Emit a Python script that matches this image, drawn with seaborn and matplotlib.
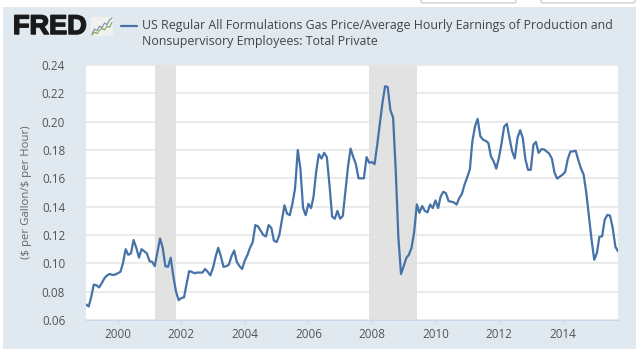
import pandas as pd
import matplotlib.pyplot as plt
import matplotlib.dates as mdates
import matplotlib.patheffects as pe
from matplotlib.patches import Rectangle, FancyBboxPatch
import seaborn as sns

# valores mensais, jan/1999 a out/2015
y1999 = [.0710, .0695, .0760, .0850, .0845, .0830, .0860, .0895, .0915, .0925, .0918, .0920]
y2000 = [.0930, .0940, .1000, .1100, .1060, .1070, .1165, .1110, .1040, .1100, .1085, .1070]
y2001 = [.1015, .1010, .0980, .1080, .1175, .1110, .0980, .0975, .1040, .0910, .0800, .0740]
y2002 = [.0755, .0760, .0850, .0945, .0940, .0930, .0935, .0935, .0935, .0960, .0940, .0915]
y2003 = [.0970, .1050, .1110, .1050, .0975, .0980, .0990, .1050, .1090, .1010, .0980, .0960]
y2004 = [.1020, .1060, .1110, .1150, .1270, .1260, .1230, .1200, .1190, .1270, .1250, .1160]
y2005 = [.1150, .1200, .1300, .1410, .1350, .1340, .1420, .1530, .1800, .1670, .1390, .1340]
y2006 = [.1420, .1390, .1470, .1650, .1770, .1740, .1780, .1750, .1550, .1330, .1315, .1370]
y2007 = [.1315, .1335, .1500, .1680, .1810, .1750, .1700, .1600, .1600, .1600, .1750, .1710]
y2008 = [.1715, .1700, .1830, .1980, .2130, .2250, .2245, .2080, .2030, .1660, .1180, .0925]
y2009 = [.0980, .1040, .1060, .1110, .1220, .1416, .1357, .1405, .1370, .1360, .1415, .1390]
y2010 = [.1444, .1390, .1470, .1505, .1495, .1440, .1435, .1430, .1415, .1460, .1490, .1555]
y2011 = [.1607, .1665, .1860, .1967, .2020, .1897, .1873, .1865, .1850, .1755, .1720, .1668]
y2012 = [.1745, .1850, .1965, .1985, .1885, .1790, .1740, .1885, .1940, .1885, .1732, .1660]
y2013 = [.1660, .1838, .1857, .1780, .1805, .1805, .1790, .1775, .1738, .1640, .1598, .1612]
y2014 = [.1626, .1645, .1732, .1789, .1790, .1795, .1730, .1670, .1626, .1500, .1331, .1167]
y2015 = [.1025, .1075, .1188, .1190, .1308, .1342, .1337, .1250, .1117, .1085]

recessoes = [('2001-03-01', '2001-11-01'), ('2007-12-01', '2009-06-01')]
y_ticks = [0.06, 0.08, 0.10, 0.12, 0.14, 0.16, 0.18, 0.20, 0.22, 0.24]
x_anos = [2000, 2002, 2004, 2006, 2008, 2010, 2012, 2014]

titulo = ('US Regular All Formulations Gas Price/Average Hourly Earnings of Production and\n'
          'Nonsupervisory Employees: Total Private')
eixo_y = r'(\$ per Gallon/\$ per Hour)'

# icone do logo
icone_x = [0, 1, 2, 3, 4, 5, 6, 7, 8]
icone_a = [1.0, 2.2, 1.8, 3.0, 2.6, 3.8, 3.4, 4.6, 5.2]
icone_b = [0.6, 1.4, 1.0, 1.9, 2.4, 2.0, 3.0, 2.7, 4.0]

valores = (y1999 + y2000 + y2001 + y2002 + y2003 + y2004 + y2005 + y2006 + y2007
           + y2008 + y2009 + y2010 + y2011 + y2012 + y2013 + y2014 + y2015)
df = pd.DataFrame({'data': pd.date_range('1999-01-01', periods=len(valores), freq='MS'),
                   'valor': valores})

sns.set_theme(style='white')
plt.rcParams['font.family'] = ['Open Sans', 'DejaVu Sans']

L, A = 640, 351
fig = plt.figure(figsize=(L / 100, A / 100), dpi=100, facecolor='white')

# painel azul claro e os botoes cortados no topo
fig.add_artist(Rectangle((3 / L, 1 - 349 / A), 633 / L, 342 / A, transform=fig.transFigure,
                         facecolor='#e1e9f0', edgecolor='none', zorder=-5))
for bx, bw in [(421, 95), (541, 94)]:
    fig.add_artist(FancyBboxPatch((bx / L, 1 - 3 / A), bw / L, 8 / A, transform=fig.transFigure,
                                  boxstyle='round,pad=0,rounding_size=0.004', facecolor='white',
                                  edgecolor='#c4c4c4', linewidth=0.8))

ax = fig.add_axes([86 / L, 1 - 320 / A, 532 / L, 255 / A])
for inicio, fim in recessoes:
    ax.axvspan(pd.Timestamp(inicio), pd.Timestamp(fim), color='#e1e1e1', alpha=0.95, lw=0, zorder=1)
sns.lineplot(x='data', y='valor', data=df, ax=ax, color='#4572a7', linewidth=1.6, zorder=3)

ax.set_xlim(df['data'].iloc[0], df['data'].iloc[-1])
ax.set_ylim(0.06, 0.24)
ax.set_yticks(y_ticks)
ax.set_yticklabels(['%.2f' % v for v in y_ticks])
ax.set_xticks([pd.Timestamp(str(a) + '-01-01') for a in x_anos])
ax.xaxis.set_major_formatter(mdates.DateFormatter('%Y'))
ax.set_xlabel('')
ax.set_ylabel('')
ax.grid(True, axis='y', color='#e6e6e6', linewidth=1.1, zorder=0)
ax.set_axisbelow(True)
ax.tick_params(axis='y', length=0, pad=15, labelsize=8.4, labelcolor='#555555')
ax.tick_params(axis='x', length=3, width=0.8, color='#ccd6eb', pad=3, labelsize=8.4, labelcolor='#555555',
               bottom=True)
for lado in ['top', 'left', 'right']:
    ax.spines[lado].set_visible(False)
ax.spines['bottom'].set_color('#ccd6eb')
ax.spines['bottom'].set_linewidth(0.8)

fig.text(27 / L, 1 - 192 / A, eixo_y, rotation=90, ha='center', va='center', fontsize=8.2, color='#666666')

# titulo com o traco da legenda
fig.add_artist(plt.Line2D([121 / L, 137 / L], [1 - 26 / A, 1 - 26 / A], color='#4572a7', linewidth=1.6))
fig.text(142 / L, 1 - 33.5 / A, titulo, ha='left', va='center', fontsize=8.95, color='#444444', linespacing=1.25)

# logo
logo = fig.text(13 / L, 1 - 27 / A, 'FRED', ha='left', va='center', fontsize=19.5, fontweight='bold',
                color='#1a1a1a', family=['Liberation Sans', 'DejaVu Sans'])
logo.set_path_effects([pe.withStroke(linewidth=1.1, foreground='#1a1a1a')])
ic = fig.add_axes([91 / L, 1 - 36 / A, 22 / L, 19 / A], facecolor='#eef1ee')
sns.lineplot(x=icone_x, y=icone_a, ax=ic, color='#7a8ea8', linewidth=0.8)
sns.lineplot(x=icone_x, y=icone_b, ax=ic, color='#7fa65a', linewidth=0.8)
ic.set_xticks([])
ic.set_yticks([])
ic.set_xlabel('')
ic.set_ylabel('')
for s in ic.spines.values():
    s.set_visible(False)

fig.savefig('out.png', dpi=100)
